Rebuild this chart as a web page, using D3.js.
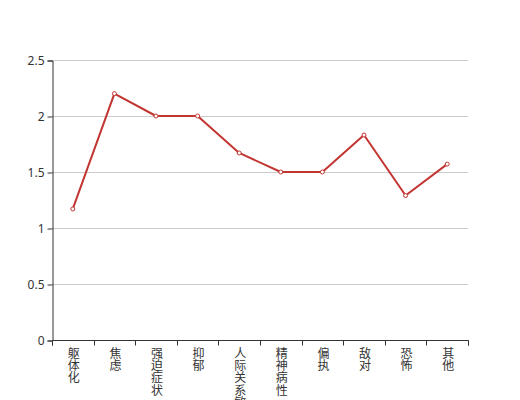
<!DOCTYPE html>
<html>
<head>
<meta charset="utf-8">
<script src="https://cdn.jsdelivr.net/npm/d3@7/dist/d3.min.js"></script>
<style>
html,body{margin:0;padding:0;background:#fff;overflow:hidden;}
svg{display:block;font-family:"Noto Sans CJK SC","Noto Sans",sans-serif;}
.vlab{writing-mode:vertical-rl;text-orientation:upright;}
</style>
</head>
<body>
<svg id="chart" width="520" height="400"></svg>
<script>
const categories = ["躯体化","焦虑","强迫症状","抑郁","人际关系敏感","精神病性","偏执","敌对","恐怖","其他"];
const values = [1.17, 2.2, 2.0, 2.0, 1.67, 1.5, 1.5, 1.83, 1.29, 1.57];
const yTicks = [0, 0.5, 1, 1.5, 2, 2.5];

(function () {
const svg = d3.select("#chart");
const mL = 52, mR = 468, mT = 60, mB = 340;

const x = d3.scaleBand().domain(categories).range([mL, mR]);
const y = d3.scaleLinear().domain([0, 2.5]).range([mB, mT]);

// grid lines
svg.append("g").selectAll("line").data(yTicks.filter(d => d > 0)).join("line")
  .attr("x1", mL).attr("x2", mR)
  .attr("y1", d => Math.round(y(d)) + 0.5).attr("y2", d => Math.round(y(d)) + 0.5)
  .attr("stroke", "#ccc").attr("stroke-width", 1);

// y axis
const yAxis = svg.append("g").attr("transform", `translate(${mL + 0.5},0.5)`)
  .call(d3.axisLeft(y).tickValues(yTicks).tickSize(5).tickPadding(3).tickFormat(d => d3.format("")(d)));
yAxis.select(".domain").attr("stroke", "#333");
yAxis.selectAll(".tick line").attr("stroke", "#333");
yAxis.selectAll("text").attr("fill", "#333").attr("font-size", 12)
  .attr("font-family", "'Noto Sans','Noto Sans CJK SC',sans-serif");

// x axis
const xAxis = svg.append("g").attr("transform", `translate(0.5,${mB + 0.5})`);
xAxis.call(d3.axisBottom(x).tickSize(0).tickFormat(""));
xAxis.select(".domain").attr("stroke", "#333").attr("d", `M${mL},5V0H${mR}V5`);
xAxis.selectAll(".tick").remove();
const bounds = categories.map(c => x(c)).concat([mR]);
xAxis.selectAll("line.bt").data(bounds).join("line").attr("class", "bt")
  .attr("x1", d => Math.round(d)).attr("x2", d => Math.round(d))
  .attr("y1", 0).attr("y2", 5).attr("stroke", "#333");

// vertical labels
svg.append("g").selectAll("text").data(categories).join("text")
  .attr("class", "vlab")
  .attr("x", c => x(c) + x.bandwidth() / 2 + 1)
  .attr("y", mB + 7)
  .attr("fill", "#333").attr("font-size", 12)
  .attr("letter-spacing", 0.4)
  .text(c => c);

// line
const line = d3.line()
  .x((d, i) => x(categories[i]) + x.bandwidth() / 2)
  .y(d => y(d));
svg.append("path").datum(values)
  .attr("d", line).attr("fill", "none")
  .attr("stroke", "#c23531").attr("stroke-width", 2).attr("stroke-linejoin", "round");

svg.append("g").selectAll("circle").data(values).join("circle")
  .attr("cx", (d, i) => x(categories[i]) + x.bandwidth() / 2)
  .attr("cy", d => y(d))
  .attr("r", 2)
  .attr("fill", "#fff")
  .attr("stroke", "#c23531").attr("stroke-width", 1);
})();
</script>
</body>
</html>
